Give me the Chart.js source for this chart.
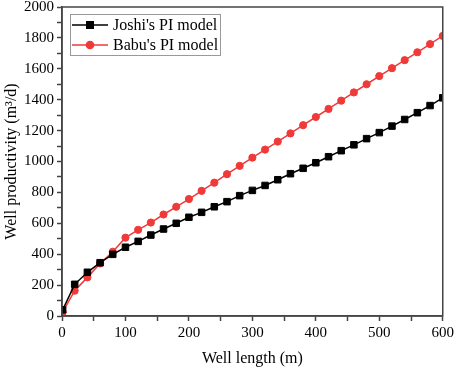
<!DOCTYPE html>
<html>
<head>
<meta charset="utf-8">
<script src="https://cdn.jsdelivr.net/npm/chart.js@4.4.1/dist/chart.umd.min.js"></script>
<style>
  html, body { margin: 0; padding: 0; background: #fff; }
  #wrap { width: 457px; height: 368px; }
</style>
</head>
<body>
<div id="wrap"><canvas id="pi"></canvas></div>
<script>
// well length (m)
const wellLength = [1, 20, 40, 60, 80, 100, 120, 140, 160, 180, 200, 220, 240, 260, 280, 300,
    320, 340, 360, 380, 400, 420, 440, 460, 480, 500, 520, 540, 560, 580, 600];
// productivity (m3/d)
const joshi = [40, 205, 283, 345, 399, 445, 483, 524, 563, 600, 639, 671, 707, 740, 779, 813,
    845, 882, 921, 956, 992, 1031, 1070, 1108, 1148, 1187, 1229, 1272, 1316, 1362, 1412];
const babu = [25, 164, 250, 340, 416, 507, 558, 605, 657, 707, 757, 810, 863, 918, 972, 1025,
    1077, 1129, 1182, 1235, 1288, 1340, 1394, 1447, 1500, 1553, 1604, 1656, 1707, 1760, 1813];
const seriesNames = ["Joshi's PI model", "Babu's PI model"];

const FONT = "'Liberation Serif', 'Times New Roman', serif";
const AXIS = '#444';

// box around the plot + legend drawn like Origin does it
const frameAndLegend = {
    id: 'frameAndLegend',
    afterDatasetsDraw(chart) {
        const ctx = chart.ctx;
        const a = chart.chartArea;
        ctx.save();
        ctx.strokeStyle = AXIS;
        ctx.lineWidth = 1.5;
        ctx.strokeRect(a.left, a.top, a.right - a.left, a.bottom - a.top);

        // legend box
        const bx = 70, by = 14, bw = 150, bh = 41;
        ctx.strokeStyle = '#999';
        ctx.lineWidth = 1;
        ctx.strokeRect(bx + 0.5, by + 0.5, bw, bh);
        chart.data.datasets.forEach((ds, i) => {
            const y = by + 11 + i * 20;
            ctx.strokeStyle = ds.borderColor;
            ctx.lineWidth = 1.5;
            ctx.beginPath();
            ctx.moveTo(bx + 2, y);
            ctx.lineTo(bx + 38, y);
            ctx.stroke();
            ctx.fillStyle = ds.pointBackgroundColor;
            ctx.strokeStyle = ds.pointBorderColor;
            Chart.helpers.drawPoint(ctx, {
                pointStyle: ds.pointStyle, radius: ds.pointRadius, rotation: 0, borderWidth: 1
            }, bx + 20, y);
            ctx.fillStyle = '#000';
            ctx.font = '16px ' + FONT;
            ctx.textBaseline = 'middle';
            ctx.textAlign = 'left';
            ctx.fillText(ds.label, bx + 43, y + 1);
        });
        ctx.restore();
    }
};

new Chart(document.getElementById('pi'), {
    type: 'line',
    data: {
        labels: wellLength,
        datasets: [{
            label: seriesNames[0],
            data: joshi.map((v, i) => ({ x: wellLength[i], y: v })),
            borderColor: '#000',
            borderWidth: 1.5,
            pointStyle: 'rect',
            pointRadius: 4.6,
            pointBackgroundColor: '#000',
            pointBorderColor: '#000',
            pointBorderWidth: 1
        }, {
            label: seriesNames[1],
            data: babu.map((v, i) => ({ x: wellLength[i], y: v })),
            borderColor: '#f03a3a',
            borderWidth: 1.5,
            pointStyle: 'circle',
            pointRadius: 3.6,
            pointBackgroundColor: '#f03a3a',
            pointBorderColor: '#f03a3a',
            pointBorderWidth: 1
        }]
    },
    options: {
        responsive: true,
        maintainAspectRatio: false,
        animation: false,
        layout: { padding: { top: 7, right: 13, left: 0, bottom: 0 } },
        plugins: {
            legend: { display: false },
            tooltip: { enabled: false }
        },
        scales: {
            x: {
                type: 'linear',
                min: 0,
                max: 600,
                afterBuildTicks(scale) {
                    const t = [];
                    for (let v = 0; v <= 600; v += 50) t.push({ value: v });
                    scale.ticks = t;
                },
                ticks: {
                    color: '#000',
                    font: { family: FONT, size: 15 },
                    padding: 3,
                    maxRotation: 0,
                    autoSkip: false,
                    callback: v => (v % 100 === 0 ? v : '')
                },
                grid: {
                    drawOnChartArea: false,
                    drawTicks: true,
                    tickLength: 5,
                    tickColor: AXIS,
                    tickWidth: 1.5
                },
                border: { color: AXIS, width: 1.5 },
                title: {
                    display: true,
                    text: 'Well length (m)',
                    color: '#000',
                    font: { family: FONT, size: 16 },
                    padding: { top: 8, bottom: 0 }
                },
                afterFit(scale) { scale.height = 52; }
            },
            y: {
                type: 'linear',
                min: 0,
                max: 2000,
                afterBuildTicks(scale) {
                    const t = [];
                    for (let v = 0; v <= 2000; v += 100) t.push({ value: v });
                    scale.ticks = t;
                },
                ticks: {
                    color: '#000',
                    font: { family: FONT, size: 15 },
                    padding: 3,
                    autoSkip: false,
                    callback: v => (v % 200 === 0 ? v : '')
                },
                grid: {
                    drawOnChartArea: false,
                    drawTicks: true,
                    tickLength: 5,
                    tickColor: AXIS,
                    tickWidth: 1.5
                },
                border: { color: AXIS, width: 1.5 },
                title: {
                    display: true,
                    text: 'Well productivity (m\u00b3/d)',
                    color: '#000',
                    font: { family: FONT, size: 16 },
                    padding: { top: 2, bottom: 4 }
                },
                afterFit(scale) {
                    scale.width = 62;
                    scale.paddingTop = 0;
                }
            }
        }
    },
    plugins: [frameAndLegend]
});
</script>
</body>
</html>
